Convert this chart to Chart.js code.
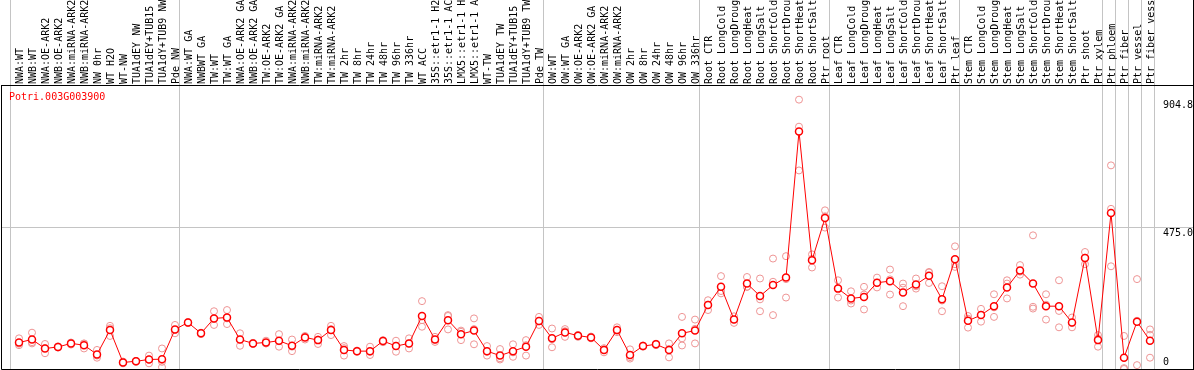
<!DOCTYPE html>
<html>
<head>
<meta charset="utf-8">
<script src="https://cdn.jsdelivr.net/npm/chart.js@4.4.0/dist/chart.umd.min.js"></script>
<style>
  html, body { margin: 0; padding: 0; background: #fff; }
  canvas { display: block; }
</style>
</head>
<body>
<canvas id="geneChart" width="1194" height="370"></canvas>
<script>
const geneName = "Potri.003G003900";

const sampleLabels = [
    "NWA:WT", "NWB:WT", "NWA:OE-ARK2", "NWB:OE-ARK2", "NWA:miRNA-ARK2", "NWB:miRNA-ARK2",
    "NW 0hr", "WT H2O", "WT-NW", "TUA1dEY NW", "TUA1dEY+TUB15", "TUA1dY+TUB9 NW", "Pde NW",
    "NWA:WT GA", "NWBWT GA", "TW:WT", "TW:WT GA", "NWA:OE-ARK2 GA", "NWB:OE-ARK2 GA",
    "TW:OE-ARK2", "TW:OE-ARK2 GA", "NWA:miRNA-ARK2", "NWB:miRNA-ARK2", "TW:miRNA-ARK2",
    "TW:miRNA-ARK2", "TW 2hr", "TW 8hr", "TW 24hr", "TW 48hr", "TW 96hr", "TW 336hr",
    "WT ACC", "35S::etr1-1 H2", "35S::etr1-1 AC", "LMX5::etr1-1 H", "LMX5::etr1-1 A",
    "WT-TW", "TUA1dEY TW", "TUA1dEY+TUB15", "TUA1dY+TUB9 TW", "Pde TW",
    "OW:WT", "OW:WT GA", "OW:OE-ARK2", "OW:OE-ARK2 GA", "OW:miRNA-ARK2", "OW:miRNA-ARK2",
    "OW 2hr", "OW 8hr", "OW 24hr", "OW 48hr", "OW 96hr", "OW 336hr",
    "Root CTR", "Root LongCold", "Root LongDroug", "Root LongHeat", "Root LongSalt",
    "Root ShortCold", "Root ShortDrou", "Root ShortHeat", "Root ShortSalt", "Ptr root",
    "Leaf CTR", "Leaf LongCold", "Leaf LongDroug", "Leaf LongHeat", "Leaf LongSalt",
    "Leaf ShortCold", "Leaf ShortDrou", "Leaf ShortHeat", "Leaf ShortSalt", "Ptr leaf",
    "Stem CTR", "Stem LongCold", "Stem LongDroug", "Stem LongHeat", "Stem LongSalt",
    "Stem ShortCold", "Stem ShortDrou", "Stem ShortHeat", "Stem ShortSalt", "Ptr shoot",
    "Ptr xylem", "Ptr phloem", "Ptr fiber", "Ptr vessel", "Ptr fiber vess"
];

// first sample index of each block, separated by grey lines
const groupStarts = [0, 13, 41, 53, 63, 73, 84, 85, 86, 87, 88];

const meanValues = [
    89, 99, 69, 74, 86, 80, 49, 131, 22, 26, 32, 33, 133,
    156, 120, 170, 173, 99, 86, 89, 95, 78, 106, 97, 131, 64, 60, 60, 94, 77, 86,
    178, 99, 164, 117, 129, 60, 45, 60, 75, 161,
    103, 123, 112, 106, 64, 131, 47, 77, 83, 64, 120, 129,
    215, 276, 166, 287, 245, 282, 307, 798, 365, 507,
    270, 237, 242, 290, 295, 257, 284, 313, 234, 369,
    162, 181, 211, 274, 331, 287, 211, 211, 156, 373, 97,
    524, 38, 159, 95
];

const rep1 = [
    103, 122, 84, 76, 89, 86, 64, 145, 22, 27, 45, 69, 148,
    158, 122, 194, 198, 120, 88, 95, 117, 99, 111, 108, 145, 77, 62, 75, 97, 95, 103,
    228, 108, 181, 129, 170, 77, 67, 83, 97, 175,
    136, 134, 114, 109, 70, 140, 66, 79, 85, 86, 175, 166,
    231, 312, 155, 309, 304, 371, 379, 904.8, 385, 533,
    298, 261, 276, 307, 334, 287, 304, 326, 278, 412,
    178, 202, 251, 298, 349, 449, 251, 298, 173, 393, 114,
    684, 111, 302, 133
];

const rep2 = [
    80, 86, 53, 72, 82, 69, 45, 111, 19, 24, 19, 6, 120,
    154, 117, 148, 151, 78, 84, 86, 75, 60, 99, 84, 114, 45, 58, 47, 90, 58, 69,
    142, 91, 133, 97, 83, 45, 32, 41, 45, 148,
    73, 108, 108, 103, 56, 124, 35, 75, 80, 39, 79, 86,
    198, 254, 177, 276, 194, 181, 240, 814, 341, 475,
    240, 220, 200, 274, 250, 211, 270, 289, 194, 343,
    139, 159, 175, 237, 317, 203, 166, 140, 140, 352, 75,
    538, 0, 13, 115
];

const rep3 = [
    85, 90, 70, 74, 87, 85, 38, 137, 25, 27, 32, 24, 131,
    156, 121, 168, 170, 99, 86, 86, 93, 75, 108, 99, 134, 70, 60, 58, 95, 78, 86,
    164, 98, 178, 125, 134, 58, 36, 56, 80, 160,
    100, 127, 114, 106, 66, 129, 40, 77, 84, 67, 103, 135,
    216, 262, 166, 276, 234, 293, 302, 667, 370, 513,
    272, 230, 250, 290, 301, 273, 278, 324, 230, 352,
    169, 182, 207, 287, 327, 209, 216, 195, 155, 374, 102,
    345, 3, 162, 38
];

const yTickValues = [0, 475.0, 904.8];
const yTickLabels = ["0", "475.0", "904.8"];

const monoFont = '10px "DejaVu Sans Mono", monospace';

function toPoints(values) {
    return values.map((v, i) => ({ x: i, y: v }));
}

function repDataset(values) {
    return {
        data: toPoints(values),
        showLine: false,
        pointRadius: 3.5,
        pointBorderWidth: 1,
        pointBorderColor: "#ee9494",
        pointBackgroundColor: "rgba(0,0,0,0)",
        order: 1
    };
}

// sample names, gene id, right-hand value labels and the frame
const overlayPlugin = {
    id: "overlay",
    afterDraw(chart) {
        const ctx = chart.ctx;
        const xs = chart.scales.x;
        const ys = chart.scales.y;
        const area = chart.chartArea;
        ctx.save();
        ctx.font = monoFont;

        ctx.fillStyle = "#000";
        ctx.textAlign = "left";
        ctx.textBaseline = "middle";
        sampleLabels.forEach((label, i) => {
            ctx.save();
            ctx.translate(Math.round(xs.getPixelForValue(i)) + 1.5, area.top - 1);
            ctx.rotate(-Math.PI / 2);
            ctx.fillText(label, 0, 0);
            ctx.restore();
        });

        ctx.textBaseline = "top";
        yTickValues.forEach((v, i) => {
            const py = Math.min(ys.getPixelForValue(v) + 1, area.bottom - 12);
            ctx.fillText(yTickLabels[i], area.right - 30, py);
        });

        ctx.fillStyle = "#ff0000";
        ctx.fillText(geneName, area.left + 8, area.top + 7);

        ctx.strokeStyle = "#000";
        ctx.lineWidth = 1;
        ctx.beginPath();
        ctx.moveTo(area.left + 0.5, area.top);
        ctx.lineTo(area.left + 0.5, area.bottom + 0.5);
        ctx.lineTo(area.right + 0.5, area.bottom + 0.5);
        ctx.moveTo(area.right + 0.5, 0);
        ctx.lineTo(area.right + 0.5, chart.height);
        ctx.stroke();
        ctx.restore();
    }
};

new Chart(document.getElementById("geneChart").getContext("2d"), {
    type: "line",
    data: {
        datasets: [
            {
                data: toPoints(meanValues),
                borderColor: "#ff0000",
                borderWidth: 1,
                tension: 0,
                pointRadius: 3.5,
                pointBorderWidth: 1.5,
                pointBorderColor: "#ff0000",
                pointBackgroundColor: "#ffffff",
                order: 0
            },
            repDataset(rep1),
            repDataset(rep2),
            repDataset(rep3)
        ]
    },
    options: {
        responsive: false,
        animation: false,
        events: [],
        layout: { autoPadding: false, padding: { left: 1, right: 1, top: 0, bottom: 1 } },
        plugins: {
            legend: { display: false },
            tooltip: { enabled: false }
        },
        scales: {
            x: {
                type: "linear",
                position: "top",
                bounds: "data",
                min: -18 / 13,
                max: -18 / 13 + 1192 / 13,
                afterBuildTicks: scale => {
                    scale.ticks = groupStarts.map(s => ({ value: s - 0.62 }));
                },
                ticks: { display: false },
                grid: { color: "#c4c4c4", lineWidth: 1, tickLength: 85, drawTicks: true },
                border: { display: true, color: "#000", width: 1 }
            },
            y: {
                type: "linear",
                position: "right",
                min: 0,
                max: 954,
                afterBuildTicks: scale => {
                    scale.ticks = yTickValues.map(v => ({ value: v }));
                },
                ticks: { display: false },
                grid: {
                    drawTicks: false,
                    color: c => (c.tick && c.tick.value === 475 ? "#c4c4c4" : "rgba(0,0,0,0)")
                },
                border: { display: false }
            }
        }
    },
    plugins: [overlayPlugin]
});
</script>
</body>
</html>
